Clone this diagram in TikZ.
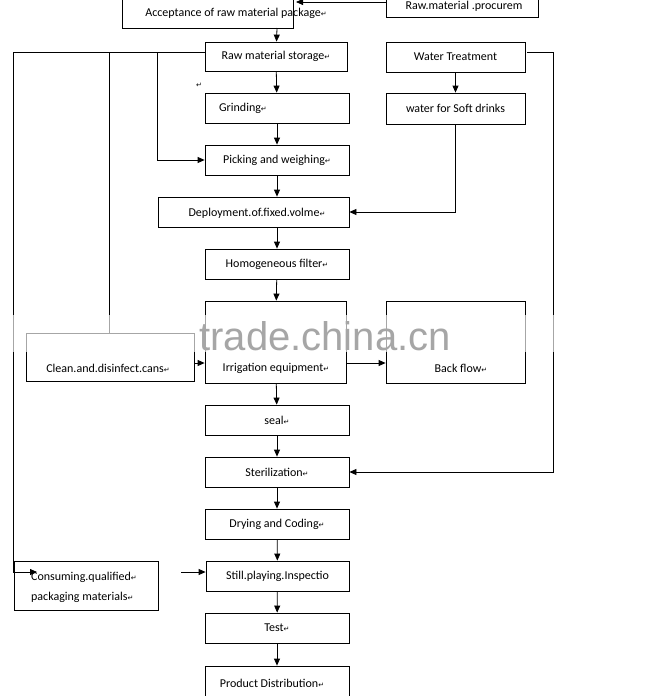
\documentclass[tikz,border=0pt]{standalone}
\usepackage{fontspec}
\setmainfont{Carlito}
\newfontfamily\dvs{DejaVu Sans}
\newfontfamily\wmfont{Liberation Sans}
\usetikzlibrary{arrows.meta}
\newcommand{\pmk}{{\dvs\fontsize{7}{7}\selectfont ↵}}
\begin{document}
\begin{tikzpicture}[x=1pt,y=-1pt,
  box/.style={draw,line width=0.8pt,font=\fontsize{12}{14}\selectfont,inner sep=0pt},
  txt/.style={font=\fontsize{12}{14}\selectfont},
  ar/.style={-{Triangle[length=7pt,width=6pt]},line width=0.8pt},
  ln/.style={line width=0.8pt}]
\useasboundingbox (0,0) rectangle (647,696);
\clip (0,0) rectangle (647,696);
\node[box,minimum width=171pt,minimum height=38pt] (acc) at (207.5,9) {};
\node[txt] (acct) at (236,13) {Acceptance of raw material package\pmk};
\node[box,minimum width=152pt,minimum height=26pt] (proc) at (462,4) {};
\node[txt] (proct) at (464,6) {Raw.material .procurem};
\node[box,minimum width=142pt,minimum height=29pt] (stor) at (276,56.5) {Raw material storage\pmk};
\node[box,minimum width=139pt,minimum height=30pt] (wt) at (455.5,57) {Water Treatment};
\node[box,minimum width=144pt,minimum height=30pt] (grind) at (277,108) {};
\node[txt] (grindt) at (243,108) {Grinding\pmk};
\node[box,minimum width=139pt,minimum height=31pt] (wsd) at (455.5,108.5) {water for Soft drinks};
\node[box,minimum width=144pt,minimum height=30pt] (pick) at (277,160) {Picking and weighing\pmk};
\node[box,minimum width=191pt,minimum height=30pt] (dep) at (253.5,212) {};
\node[txt] (dept) at (257,213) {Deployment.of.fixed.volme\pmk};
\node[box,minimum width=144pt,minimum height=30pt] (hom) at (277,264) {Homogeneous filter\pmk};
\node[box,minimum width=141pt,minimum height=82pt] (irr) at (275.5,342) {};
\node[txt] (irrt) at (276,368) {Irrigation equipment\pmk};
\node[box,minimum width=168pt,minimum height=48pt] (cln) at (110,357) {};
\node[txt] (clnt) at (108,368) {Clean.and.disinfect.cans\pmk};
\node[box,minimum width=139pt,minimum height=82pt] (bf) at (455.5,342) {};
\node[txt] (bft) at (461,368) {Back flow\pmk};
\node[box,minimum width=144pt,minimum height=30pt] (seal) at (277,420) {seal\pmk};
\node[box,minimum width=144pt,minimum height=30pt] (ster) at (277,472) {Sterilization\pmk};
\node[box,minimum width=144pt,minimum height=30pt] (dry) at (277,524) {Drying and Coding\pmk};
\node[box,minimum width=143pt,minimum height=30pt] (still) at (277.5,576) {Still.playing.Inspectio};
\node[box,minimum width=144pt,minimum height=49pt] (cons) at (86,585.5) {};
\node[txt,align=left,font=\fontsize{12}{20}\selectfont] (const) at (84,587) {Consuming.qualified\pmk\\packaging materials\pmk};
\node[box,minimum width=144pt,minimum height=30pt] (test) at (277,628) {Test\pmk};
\node[box,minimum width=144pt,minimum height=36pt] (pd) at (277,684) {};
\node[txt] (pdt) at (272,683) {Product Distribution\pmk};
\node (stray) at (199,85) {\pmk};
% vertical flow
\coordinate (j) at (205,52);
\draw[ar] (277,28) -- (stor);
\draw[ar] (stor) -- (grind);
\draw[ar] (grind) -- (pick);
\draw[ar] (pick) -- (pick |- dep.north);
\draw[ar] (pick |- dep.south) -- (hom);
\draw[ar] (hom) -- (irr);
\draw[ar] (irr) -- (seal);
\draw[ar] (seal) -- (ster);
\draw[ar] (ster) -- (dry);
\draw[ar] (dry) -- (still);
\draw[ar] (still) -- (test);
\draw[ar] (test) -- (pd);
\draw[ar] (wt) -- (wsd);
\draw[ar] (proc.west |- 0,2) -- (296,2);
% side connectors
\draw[ar] (wsd.south) |- (dep.east);
\draw[ln] (j) -- (13,52);
\draw[ar] (13,52) |- (37,572);
\draw[ln] (109,52) -- (cln.north -| 109,0);
\draw[ar] (157,52) |- (pick.west);
\draw[ar] (527,52) -- (553,52) |- (ster.east);
\draw[ar] (194,363) -- (irr.west |- 0,363);
\draw[ar] (irr.east |- 0,363) -- (bf.west |- 0,363);
\draw[ar] (181,572) -- (still.west |- 0,572);
% watermark
\fill[white,opacity=0.65] (0,315) rectangle (647,352);
\node[text=gray!70,font=\wmfont\fontsize{40}{42}\selectfont] (wm) at (325,336) {trade.china.cn};
\end{tikzpicture}
\end{document}
